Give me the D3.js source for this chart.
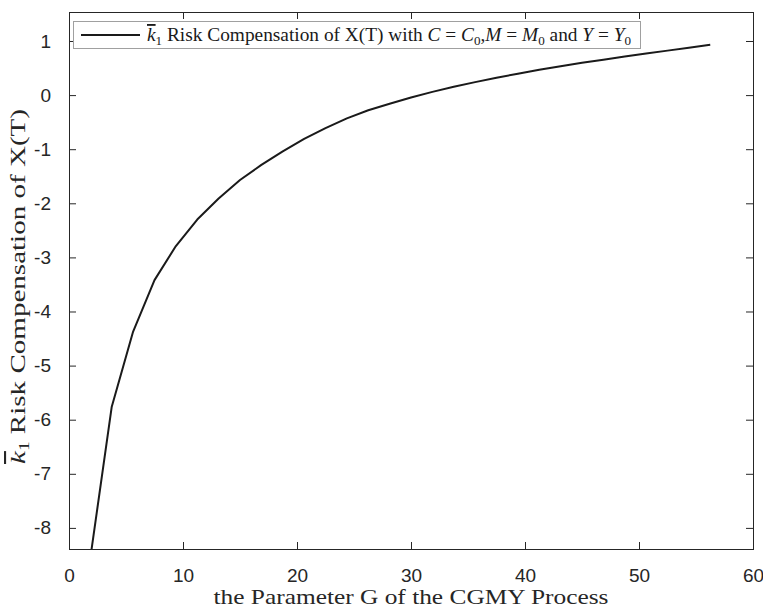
<!DOCTYPE html>
<html>
<head>
<meta charset="utf-8">
<script src="https://cdn.jsdelivr.net/npm/d3@7/dist/d3.min.js"></script>
<style>
  body { margin: 0; background: #fff; }
  svg { display: block; }
</style>
</head>
<body>
<svg id="chart" width="763" height="610"></svg>
<script>
// G parameter values (x) and risk compensation k1 (y)
const gValues = [1.875, 3.75, 5.625, 7.5, 9.375, 11.25, 13.125, 15, 16.875, 18.75,
  20.625, 22.5, 24.375, 26.25, 28.125, 30, 31.875, 33.75, 35.625, 37.5,
  39.375, 41.25, 43.125, 45, 46.875, 48.75, 50.625, 52.5, 54.375, 56.25];
const k1Values = [-8.55, -5.76, -4.37, -3.42, -2.79, -2.30, -1.91, -1.57, -1.29, -1.04,
  -0.81, -0.61, -0.43, -0.28, -0.16, -0.045, 0.06, 0.155, 0.24, 0.32,
  0.395, 0.467, 0.535, 0.597, 0.654, 0.713, 0.768, 0.822, 0.875, 0.93];
const xTicks = [0, 10, 20, 30, 40, 50, 60];
const yTicks = [-8, -7, -6, -5, -4, -3, -2, -1, 0, 1];

const margin = {left: 69, right: 753, top: 12, bottom: 549};
const axisColor = "#262626";
const svg = d3.select("#chart");

const x = d3.scaleLinear().domain([0, 60]).range([margin.left, margin.right]);
const y = d3.scaleLinear().domain([-8.39, 1.536]).range([margin.bottom, margin.top]);

svg.append("defs").append("clipPath").attr("id", "plot-clip")
  .append("rect")
    .attr("x", margin.left).attr("y", margin.top)
    .attr("width", margin.right - margin.left).attr("height", margin.bottom - margin.top);

// axes: ticks point inward on all four sides (box on)
const tickLen = 7;
const plain = d => String(d); // hyphen minus like matlab, not d3's unicode minus
const styleAxis = g => {
  g.select(".domain").remove();
  g.selectAll(".tick line").attr("stroke", axisColor).attr("stroke-width", 1);
  g.selectAll(".tick text")
    .attr("fill", axisColor)
    .style("font-family", "'Liberation Sans', Arial, sans-serif")
    .style("font-size", "19px");
};

svg.append("g")
  .attr("transform", `translate(0,${margin.bottom})`)
  .call(d3.axisBottom(x).tickValues(xTicks).tickSize(-tickLen).tickPadding(20).tickFormat(plain))
  .call(styleAxis);

svg.append("g")
  .attr("transform", `translate(0,${margin.top})`)
  .call(d3.axisTop(x).tickValues(xTicks).tickSize(-tickLen).tickFormat(""))
  .call(styleAxis);

svg.append("g")
  .attr("transform", `translate(${margin.left},0)`)
  .call(d3.axisLeft(y).tickValues(yTicks).tickSize(-tickLen).tickPadding(18).tickFormat(plain))
  .call(styleAxis);

svg.append("g")
  .attr("transform", `translate(${margin.right},0)`)
  .call(d3.axisRight(y).tickValues(yTicks).tickSize(-tickLen).tickFormat(""))
  .call(styleAxis);

svg.append("rect")
  .attr("x", margin.left + 0.5).attr("y", margin.top + 0.5)
  .attr("width", margin.right - margin.left).attr("height", margin.bottom - margin.top)
  .attr("fill", "none").attr("stroke", axisColor).attr("stroke-width", 1);

// the curve
const pts = gValues.map((g, i) => [g, k1Values[i]]);
svg.append("path")
  .datum(pts)
  .attr("clip-path", "url(#plot-clip)")
  .attr("fill", "none")
  .attr("stroke", "#1a1a1a")
  .attr("stroke-width", 2)
  .attr("stroke-linejoin", "round")
  .attr("d", d3.line().x(d => x(d[0])).y(d => y(d[1])));

const serif = "'Liberation Serif', 'Times New Roman', serif";

// writes a list of [text, kind] pieces into a text element; kind: "", "i", "sub", "bar"
function rich(textSel, pieces, subSize) {
  let shifted = false;
  pieces.forEach(([s, kind]) => {
    const t = textSel.append("tspan").text(s);
    if (kind === "sub") {
      t.attr("dy", shifted ? 0 : 4).style("font-size", subSize);
      shifted = true;
      return;
    }
    if (shifted) { t.attr("dy", -4); shifted = false; }
    if (kind === "i" || kind === "bar") t.style("font-style", "italic");
    if (kind === "bar") t.style("text-decoration", "overline");
  });
}

// axis labels
svg.append("text")
  .attr("x", (margin.left + margin.right) / 2 + 0)
  .attr("y", 604)
  .attr("text-anchor", "middle")
  .attr("fill", axisColor)
  .attr("textLength", 395)
  .attr("lengthAdjust", "spacingAndGlyphs")
  .style("font-family", serif)
  .style("font-size", "21px")
  .text("the Parameter G of the CGMY Process");

const yLab = svg.append("text")
  .attr("transform", `translate(25,${(margin.top + margin.bottom) / 2 + 6}) rotate(-90)`)
  .attr("text-anchor", "middle")
  .attr("fill", axisColor)
  .attr("textLength", 355)
  .attr("lengthAdjust", "spacingAndGlyphs")
  .style("font-family", serif)
  .style("font-size", "21px");
rich(yLab, [["k", "bar"], ["1", "sub"], [" Risk Compensation of X(T)", ""]], "14px");

// legend
const legend = svg.append("g");
legend.append("rect")
  .attr("x", 73.5).attr("y", 21.5)
  .attr("width", 567).attr("height", 27)
  .attr("fill", "#fff").attr("stroke", "#a0a0a0").attr("stroke-width", 1);
legend.append("line")
  .attr("x1", 81).attr("x2", 140).attr("y1", 35).attr("y2", 35)
  .attr("stroke", "#1a1a1a").attr("stroke-width", 2);

const lt = legend.append("text")
  .attr("x", 147).attr("y", 41)
  .attr("fill", "#1a1a1a")
  .attr("textLength", 484)
  .attr("lengthAdjust", "spacingAndGlyphs")
  .style("font-family", serif)
  .style("font-size", "18.5px");
rich(lt, [
  ["k", "bar"], ["1", "sub"], [" Risk Compensation of X(T) with ", ""],
  ["C", "i"], [" = ", ""], ["C", "i"], ["0", "sub"], [",", ""],
  ["M", "i"], [" = ", ""], ["M", "i"], ["0", "sub"], [" and ", ""],
  ["Y", "i"], [" = ", ""], ["Y", "i"], ["0", "sub"]
], "12.5px");
</script>
</body>
</html>
